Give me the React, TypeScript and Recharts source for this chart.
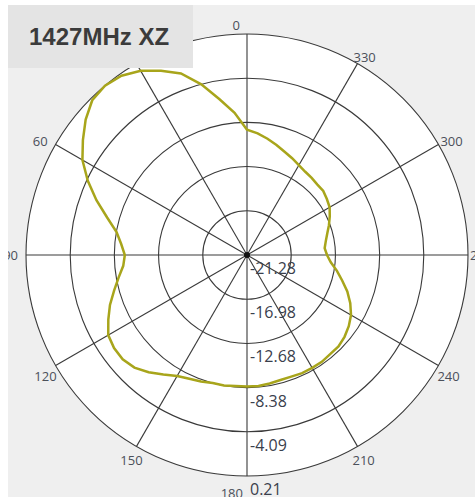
import { RadarChart, Radar, PolarGrid, PolarAngleAxis, PolarRadiusAxis } from "recharts";

// azimuth in degrees, counted counter-clockwise from the top
const angles = [
  0, 5, 10, 15, 20, 25, 30, 35, 40, 45, 50, 55, 60, 65, 70, 75, 80, 85,
  90, 95, 100, 105, 110, 115, 120, 125, 130, 135, 140, 145, 150, 155, 160, 165, 170, 175,
  180, 185, 190, 195, 200, 205, 210, 215, 220, 225, 230, 235, 240, 245, 250, 255, 260, 265,
  270, 275, 280, 285, 290, 295, 300, 305, 310, 315, 320, 325, 330, 335, 340, 345, 350, 355,
];

// gain in dB
const gain = [
  -9.1, -7.4, -5.9, -4.1, -2.5, -1.5, -0.6, 0.0, 0.2, 0.0, -0.8, -1.8, -2.8, -4.2, -5.7, -7.2, -8.4, -9.0,
  -9.4, -9.2, -8.6, -7.9, -7.1, -6.4, -5.7, -5.5, -5.5, -5.8, -6.4, -7.1, -7.7, -8.0, -8.2, -8.4, -8.4, -8.5,
  -8.5, -8.5, -8.6, -8.7, -8.7, -8.6, -8.6, -8.6, -8.7, -8.7, -8.9, -9.2, -9.6, -10.2, -10.9, -11.7, -12.4, -13.1,
  -13.5, -13.7, -13.5, -13.2, -12.8, -12.4, -12.0, -11.8, -11.6, -11.6, -11.5, -11.4, -11.2, -10.9, -10.6, -10.2, -9.8, -9.4,
];

const spokeAngles = [0, 30, 60, 90, 120, 150, 180, 210, 240, 270, 300, 330];
const radiusTicks = [-21.28, -16.98, -12.68, -8.38, -4.09, 0.21];

const data = angles.map((a, i) => ({ angle: a, gain: gain[i] }));

const W = 467;
const H = 492;
const CX = 239;
const CY = 250;
const R = 221;

// label offsets from the point where each spoke meets the outer ring
const labelPos: Record<number, [number, number, "start" | "middle" | "end"]> = {
  0: [-7, -4, "end"],
  30: [-4, -2, "end"],
  60: [-8, 1, "end"],
  90: [-8, 5, "end"],
  120: [1, 15, "end"],
  150: [-5, 19, "middle"],
  180: [-4, 22, "end"],
  210: [-5, 19, "start"],
  240: [-1, 15, "start"],
  270: [2, 5, "start"],
  300: [2, 1, "start"],
  330: [-4, -2, "start"],
};

function AngleTick(props: any) {
  const v = Number(props.payload?.value);
  if (!(v in labelPos)) return <g />;
  const t = (v * Math.PI) / 180;
  const px = CX - R * Math.sin(t);
  const py = CY - R * Math.cos(t);
  const [dx, dy, anchor] = labelPos[v];
  return (
    <text x={px + dx} y={py + dy} textAnchor={anchor} fontSize={13} fill="#4b505a" fontFamily="'Open Sans', sans-serif">
      {v}
    </text>
  );
}

function RadiusTick(props: any) {
  const { x, y, payload } = props;
  return (
    <text x={x + 3} y={y + 19} textAnchor="start" fontSize={16} fill="#3a404c" fontFamily="'Open Sans', sans-serif">
      {Number(payload.value).toFixed(2)}
    </text>
  );
}

export default function App() {
  return (
    <div style={{ position: "absolute", left: 8, top: 5, width: W, height: H, background: "#efefef", overflow: "hidden" }}>
      <div
        style={{
          position: "absolute",
          left: CX - R,
          top: CY - R,
          width: 2 * R,
          height: 2 * R,
          borderRadius: "50%",
          background: "#ffffff",
        }}
      />
      <div style={{ position: "absolute", left: 0, top: 0 }}>
        <RadarChart
          width={W}
          height={H}
          data={data}
          cx={CX}
          cy={CY}
          outerRadius={R}
          startAngle={90}
          endAngle={450}
          margin={{ top: 0, right: 0, bottom: 0, left: 0 }}
        >
          <PolarGrid gridType="circle" stroke="#3a3a3a" strokeWidth={1.1} />
          <PolarAngleAxis
            dataKey="angle"
            type="number"
            domain={[0, 360]}
            ticks={spokeAngles}
            axisLine={false}
            tickLine={false}
            tick={<AngleTick />}
          />
          <PolarRadiusAxis
            angle={-90}
            type="number"
            domain={[-21.28, 0.21]}
            ticks={radiusTicks}
            axisLine={false}
            tickLine={false}
            tick={<RadiusTick />}
          />
          <Radar
            dataKey="gain"
            stroke="#a8a51b"
            strokeWidth={2.5}
            fill="none"
            fillOpacity={0}
            dot={false}
            isAnimationActive={false}
          />
        </RadarChart>
      </div>
      <div
        style={{
          position: "absolute",
          left: CX - 3,
          top: CY - 3,
          width: 6,
          height: 6,
          borderRadius: "50%",
          background: "#111",
        }}
      />
      <div
        style={{
          position: "absolute",
          left: 0,
          top: 0,
          width: 185,
          height: 63,
          background: "#e4e4e4",
          color: "#3b3b3b",
          fontFamily: "'Liberation Sans', Arial, sans-serif",
          fontWeight: "bold",
          fontSize: 24,
          lineHeight: "63px",
          paddingLeft: 21,
          boxSizing: "border-box",
        }}
      >
        1427MHz XZ
      </div>
    </div>
  );
}
